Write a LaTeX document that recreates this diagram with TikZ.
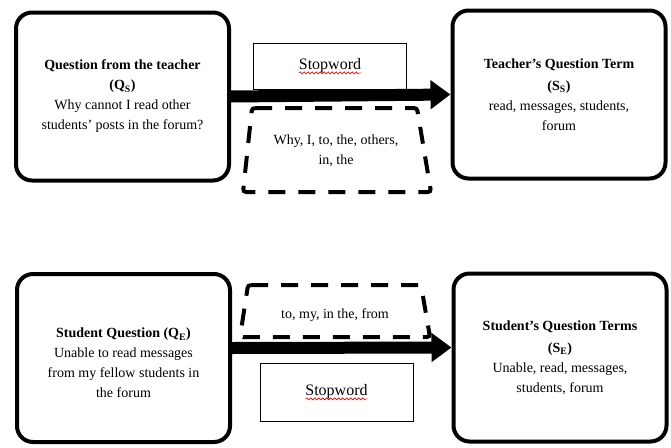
\documentclass[tikz,border=0pt]{standalone}
\usepackage{fontspec}
\setmainfont{Liberation Serif}
\usetikzlibrary{arrows.meta, decorations.pathmorphing}

\begin{document}
\begin{tikzpicture}[
  x=1pt, y=-1pt,
  font=\fontsize{14}{20}\selectfont,
  blocco/.style={draw=black, line width=4pt, rounded corners=16pt, align=center,
                 minimum width=213pt, minimum height=168pt},
  freccia/.style={draw=black, line width=12pt, -{Triangle[length=20pt,width=28pt]}},
  parole/.style={draw=black, line width=0.8pt, minimum width=153pt,
                 font=\fontsize{16}{20}\selectfont},
  filtro/.style={draw=black, line width=4pt, dash pattern=on 17pt off 13pt,
                 rounded corners=3pt},
  ondina/.style={draw=red, line width=0.6pt, decorate,
                 decoration={snake, amplitude=1pt, segment length=4pt}}
]
\useasboundingbox (0,0) rectangle (671,447);

% riquadri
\node[blocco] (Q1) at (122.5,96.5)
  {\textbf{Question from the teacher}\\ \textbf{(Q\textsubscript{S})}\\
   Why cannot I read other\\ students' posts in the forum?};
\node[blocco] (R1) at (559,94.5)
  {\textbf{Teacher's Question Term}\\[2pt] \textbf{(S\textsubscript{S})}\\
   read, messages, students,\\ forum};
\node[blocco] (Q2) at (123.5,358)
  {\rule{0pt}{20pt}\textbf{Student Question (Q\textsubscript{E})}\\ Unable to read messages\\
   from my fellow students in\\ the forum};
\node[blocco] (R2) at (560,357.5)
  {\textbf{Student's Question Terms}\\[2pt] \textbf{(S\textsubscript{E})}\\
   Unable, read, messages,\\ students, forum};

% frecce
\draw[freccia] (Q1.east) -- (R1.west);
\draw[freccia] ([yshift=10pt]Q2.east) -- ([yshift=10pt]R2.west);

% stopword
\node[parole, minimum height=46pt] (P1) at (330,66) {Stopword};
\node[parole, minimum height=58pt] (P2) at (336.5,392) {Stopword};
\foreach \p in {P1,P2}
  \draw[ondina] ([xshift=-31pt,yshift=-3pt]\p.base) -- ([xshift=31pt,yshift=-3pt]\p.base);

% parole eliminate
\draw[filtro] (252,108) -- (417,108) -- (431,192) -- (243,192) -- cycle;
\node[align=center] (F1) at (336,151) {Why, I, to, the, others,\\ in, the};
\draw[filtro] (248,285) -- (421,285) -- (430,337) -- (240,337) -- cycle;
\node (F2) at (335,315) {to, my, in the, from};

\end{tikzpicture}
\end{document}
